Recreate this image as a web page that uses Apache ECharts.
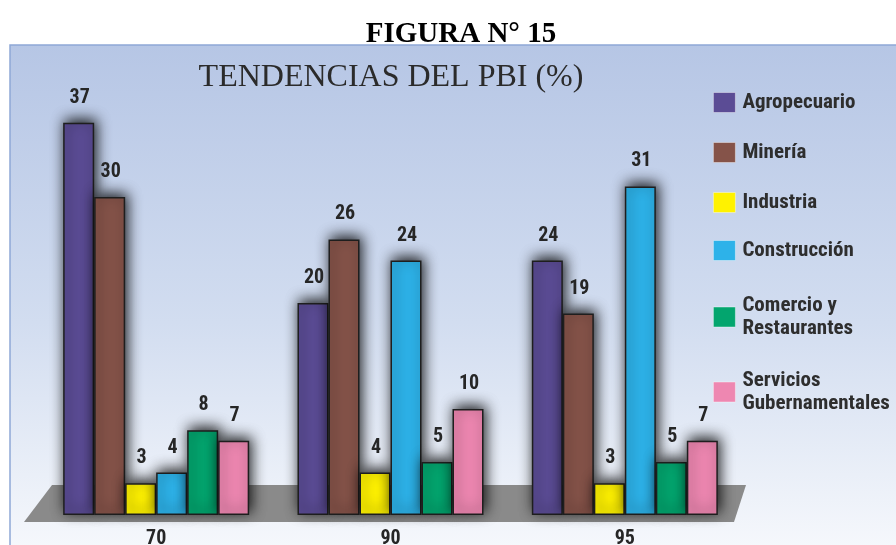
<!DOCTYPE html>
<html>
<head>
<meta charset="utf-8">
<title>Tendencias del PBI</title>
<script src="https://cdn.jsdelivr.net/npm/echarts@6/dist/echarts.min.js"></script>
<style>
  html, body { margin: 0; padding: 0; background: #fff; }
  #chart { width: 896px; height: 545px; }
</style>
</head>
<body>
<div id="chart"></div>
<script>
  // años
  var years = ['70', '90', '95'];
  // participación en el PBI (%)
  var agropecuario = [37, 20, 24];
  var mineria = [30, 26, 19];
  var industria = [3, 4, 3];
  var construccion = [4, 24, 31];
  var comercio = [8, 5, 5];
  var servicios = [7, 10, 7];

  var sectores = ['Agropecuario', 'Minería', 'Industria', 'Construcción',
    'Comercio y\nRestaurantes', 'Servicios\nGubernamentales'];
  var colores = ['#5b4c95', '#855349', '#fff200', '#2db2e9', '#03a56e', '#ee87b1'];
  var legendTops = [91, 141, 191, 239, 294, 369];

  var narrow = '"Liberation Sans Narrow", "Roboto Condensed", "Liberation Sans", sans-serif';

  function bar(name, data, color) {
    return {
      name: name,
      type: 'bar',
      data: data,
      barWidth: 31,
      barGap: '0%',
      itemStyle: {
        color: color,
        borderColor: '#1e1e1e',
        borderWidth: 1.5,
        shadowBlur: 14,
        shadowColor: 'rgba(0,0,0,0.9)',
        shadowOffsetX: 2,
        shadowOffsetY: -3
      },
      label: {
        show: true,
        position: 'top',
        distance: 15,
        offset: [1, 0],
        color: '#262626',
        fontFamily: narrow,
        fontWeight: 'bold',
        fontSize: 20
      },
      z: 3
    };
  }

  // una leyenda por sector para respetar el espaciado original
  var legends = sectores.map(function (s, i) {
    return {
      orient: 'vertical',
      left: 713,
      top: legendTops[i],
      padding: 0,
      itemWidth: 22,
      itemHeight: 20,
      icon: 'rect',
      itemStyle: {
        borderWidth: 0.8,
        borderColor: 'rgba(255,255,255,0.5)',
        shadowBlur: 0
      },
      textStyle: {
        fontFamily: narrow,
        fontWeight: 'bold',
        fontSize: 21,
        lineHeight: 23,
        color: '#2e2e2e',
        padding: [0, 0, 0, 2]
      },
      data: [s]
    };
  });

  var chart = echarts.init(document.getElementById('chart'));
  chart.setOption({
    backgroundColor: '#fff',
    animation: false,
    title: [{
      text: 'FIGURA N° 15',
      left: 456,
      top: 15,
      textAlign: 'center',
      textStyle: {
        fontFamily: '"Liberation Serif", "DejaVu Serif", serif',
        fontWeight: 'bold',
        fontSize: 29,
        color: '#000'
      }
    }, {
      text: 'TENDENCIAS DEL PBI (%)',
      left: 386,
      top: 57,
      textAlign: 'center',
      textStyle: {
        fontFamily: '"Liberation Serif", "DejaVu Serif", serif',
        fontWeight: 'normal',
        fontSize: 32,
        color: '#2b2b2b'
      }
    }],
    graphic: [{
      type: 'rect',
      shape: { x: 10, y: 45, width: 890, height: 505 },
      style: {
        fill: new echarts.graphic.LinearGradient(0, 0, 0, 1, [
          { offset: 0, color: '#b6c6e5' },
          { offset: 0.55, color: '#d2ddf0' },
          { offset: 1, color: '#f6f8fc' }
        ]),
        stroke: '#8ea8d6',
        lineWidth: 1.5
      },
      z: -10
    }, {
      type: 'polygon',
      shape: { points: [[52, 485], [746, 485], [734, 522], [24, 522]] },
      style: { fill: '#8a8a8a' },
      z: -5
    }],
    legend: legends,
    grid: {
      left: 39,
      right: 154,
      top: 91,
      bottom: 30,
      containLabel: false,
      outerBoundsMode: 'none'
    },
    xAxis: {
      type: 'category',
      data: years,
      axisLine: { show: false },
      axisTick: { show: false },
      axisLabel: {
        margin: 14,
        color: '#262626',
        fontFamily: narrow,
        fontWeight: 'bold',
        fontSize: 20
      }
    },
    yAxis: {
      type: 'value',
      min: 0,
      max: 40,
      show: false
    },
    series: sectores.map(function (s, i) {
      var datos = [agropecuario, mineria, industria, construccion, comercio, servicios][i];
      return bar(s, datos, colores[i]);
    })
  });
</script>
</body>
</html>
